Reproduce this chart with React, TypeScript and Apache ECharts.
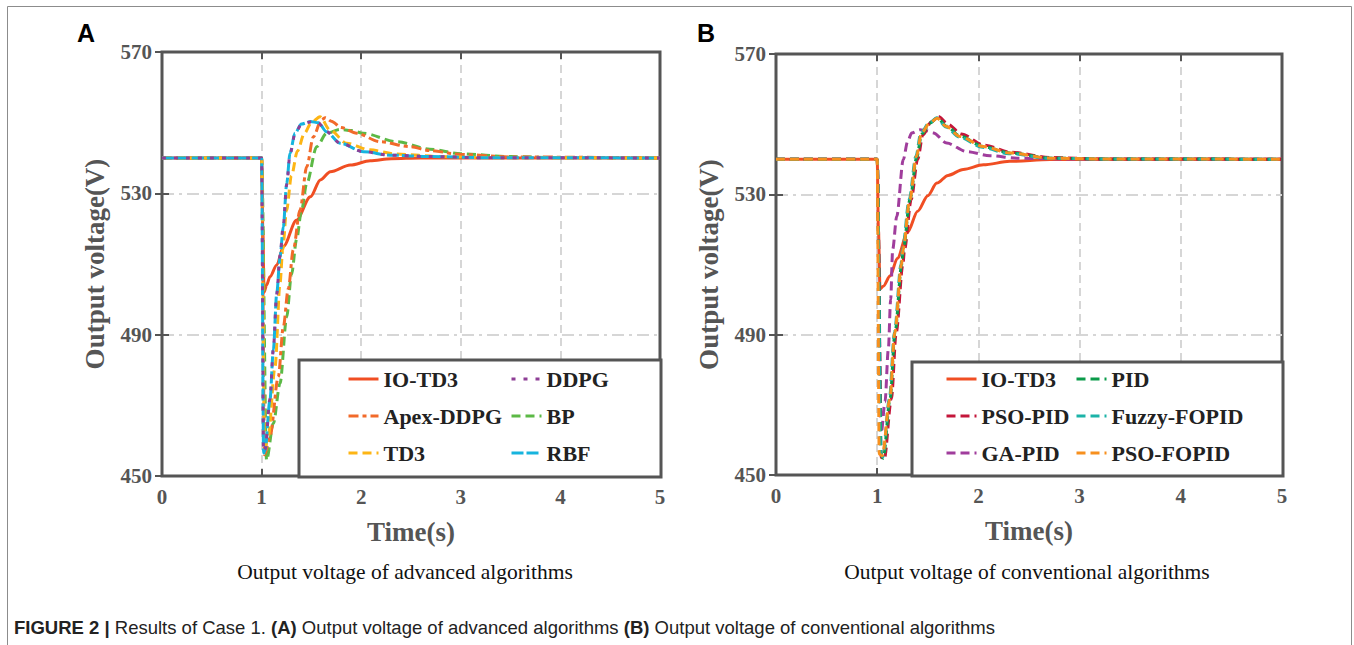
import React, { useEffect, useRef } from 'react';
import * as echarts from 'echarts';

type Pt = [number, number];

// Axis ranges / ticks
const timeTicks = [0, 1, 2, 3, 4, 5];
const voltTicks = [450, 490, 530, 570];

// Panel A: advanced algorithms  [time (s), voltage (V)]
const ioTd3A: Pt[] = [[0, 540], [1.0, 540], [1.012, 520], [1.025, 502], [1.05, 504], [1.084, 506.4], [1.152, 509.7], [1.22, 515], [1.35, 522.4], [1.49, 529], [1.59, 533.8], [1.69, 536.1], [1.89, 538], [2.09, 539.2], [2.3, 539.8], [2.6, 540], [5, 540]];
const ddpgA: Pt[] = [[0, 540], [1.0, 540], [1.02, 456.8], [1.035, 457.5], [1.084, 471.8], [1.118, 486], [1.152, 501.5], [1.185, 512.5], [1.218, 521], [1.252, 532.5], [1.285, 541], [1.335, 546.8], [1.4, 549.5], [1.49, 550.2], [1.57, 549.9], [1.65, 547.5], [1.79, 544.2], [2.02, 541.8], [2.29, 540.8], [2.69, 540.4], [3.2, 540.1], [5, 540]];
const apexA: Pt[] = [[0, 540], [1.0, 540], [1.03, 456], [1.084, 461.2], [1.168, 478.1], [1.218, 492.2], [1.268, 503], [1.318, 514], [1.386, 525.3], [1.453, 537.5], [1.52, 546], [1.6, 550.8], [1.64, 551.4], [1.7, 550.4], [1.8, 548.6], [1.955, 547], [2.19, 544.6], [2.49, 543.2], [2.69, 542.1], [3.0, 541], [3.5, 540.3], [5, 540]];
const bpA: Pt[] = [[0, 540], [1.0, 540], [1.05, 454.5], [1.118, 464.9], [1.185, 476.2], [1.252, 495], [1.3, 507], [1.352, 517], [1.4, 525], [1.453, 532.8], [1.553, 543.2], [1.653, 547], [1.787, 548.1], [1.9, 547.8], [2.021, 547], [2.356, 544.6], [2.69, 542.5], [3.0, 541.2], [3.5, 540.4], [4.0, 540.1], [5, 540]];
const td3A: Pt[] = [[0, 540], [1.0, 540], [1.03, 457.5], [1.067, 461.2], [1.135, 480.9], [1.185, 504.5], [1.212, 514], [1.25, 525], [1.3, 535], [1.36, 542], [1.43, 547], [1.5, 550], [1.586, 551.7], [1.687, 547.9], [1.854, 544.2], [2.088, 542.3], [2.356, 541.1], [2.8, 540.4], [3.3, 540.1], [5, 540]];
const rbfA: Pt[] = [[0, 540], [1.0, 540], [1.02, 456.5], [1.035, 457.3], [1.084, 471.5], [1.118, 485.7], [1.152, 501.7], [1.185, 512], [1.218, 520.5], [1.252, 532.8], [1.285, 541.3], [1.335, 547], [1.4, 549.6], [1.49, 550.3], [1.57, 550], [1.653, 547.4], [1.787, 544.2], [2.021, 541.8], [2.29, 540.8], [2.69, 540.4], [3.2, 540.1], [5, 540]];

// Panel B: conventional algorithms
const ioTd3B: Pt[] = [[0, 540], [1.0, 540], [1.012, 520], [1.028, 503], [1.06, 503.8], [1.127, 506.7], [1.2, 511.8], [1.3, 519.2], [1.4, 525.2], [1.5, 529.6], [1.59, 533.2], [1.7, 535.4], [1.85, 537.1], [2.05, 538.4], [2.31, 539.4], [2.71, 539.9], [5, 540]];
const pidB: Pt[] = [[0, 540], [1.0, 540], [1.04, 455.5], [1.06, 454.8], [1.127, 471.6], [1.176, 490.6], [1.242, 510], [1.258, 514.3], [1.324, 528.5], [1.39, 540.5], [1.44, 547.2], [1.522, 550.3], [1.594, 551.8], [1.687, 549.4], [1.818, 546.6], [2.05, 543.6], [2.31, 541.8], [2.71, 540.3], [3.2, 540.1], [5, 540]];
const psoPidB: Pt[] = [[0, 540], [1.0, 540], [1.04, 455], [1.07, 454.5], [1.14, 471.6], [1.188, 490.6], [1.254, 510], [1.27, 514.3], [1.336, 528.5], [1.4, 540], [1.452, 547], [1.534, 550.6], [1.604, 552.2], [1.7, 550], [1.83, 547.2], [2.06, 544], [2.32, 542], [2.72, 540.5], [3.2, 540.1], [5, 540]];
const fuzzyB: Pt[] = [[0, 540], [1.0, 540], [1.035, 456], [1.055, 455.2], [1.12, 471.6], [1.17, 490.6], [1.235, 510], [1.25, 514.3], [1.316, 528.5], [1.382, 540.8], [1.432, 547.6], [1.515, 550.4], [1.59, 551.8], [1.68, 549.2], [1.81, 546.3], [2.04, 543.4], [2.3, 541.6], [2.7, 540.3], [3.2, 540.1], [5, 540]];
const gaPidB: Pt[] = [[0, 540], [1.0, 540], [1.04, 462], [1.077, 470.8], [1.11, 485.8], [1.133, 500], [1.153, 514.3], [1.193, 523.7], [1.258, 539.9], [1.3, 545], [1.341, 547.5], [1.423, 548.4], [1.49, 548.1], [1.555, 547.5], [1.687, 544.6], [1.884, 542.2], [2.115, 541], [2.38, 540.3], [2.8, 540.1], [5, 540]];
const psoFopidB: Pt[] = [[0, 540], [1.0, 540], [1.02, 456], [1.05, 455.5], [1.125, 471.6], [1.174, 490.6], [1.24, 510], [1.256, 514.3], [1.322, 528.5], [1.388, 540.8], [1.438, 547.5], [1.52, 550.3], [1.592, 551.7], [1.685, 549.3], [1.816, 546.5], [2.05, 543.6], [2.31, 541.8], [2.71, 540.3], [3.2, 540.1], [5, 540]];

const serif = "'Liberation Serif', 'Times New Roman', serif";
const sans = "'Liberation Sans', Arial, sans-serif";
const axisGray = '#555555';
const gridGray = '#d6d6d6';

function line(name: string, data: Pt[], color: string, dash: any, panel: number, z: number) {
  return {
    type: 'line',
    name,
    data,
    xAxisIndex: panel * 2,
    yAxisIndex: panel * 2,
    symbol: 'none',
    smooth: 0.3,
    smoothMonotone: 'x',
    z,
    lineStyle: { color, width: 3, type: dash },
    itemStyle: { color },
    emphasis: { disabled: true },
  };
}

function axesFor(panel: number) {
  const xBottom = {
    type: 'value', gridIndex: panel, position: 'bottom',
    min: timeTicks[0], max: timeTicks[timeTicks.length - 1], interval: 1,
    name: 'Time(s)', nameLocation: 'middle', nameGap: 42,
    nameTextStyle: { fontFamily: serif, fontWeight: 'bold', fontSize: 27, color: axisGray },
    axisLine: { show: false },
    axisTick: { show: true, inside: true, length: 7, lineStyle: { color: axisGray, width: 2 } },
    axisLabel: { margin: 10, fontFamily: serif, fontWeight: 'bold', fontSize: 21, color: axisGray },
    splitLine: { show: true, showMinLine: false, showMaxLine: false, lineStyle: { color: gridGray, width: 2, type: [8, 5] } },
  };
  const xTop = {
    type: 'value', gridIndex: panel, position: 'top',
    min: timeTicks[0], max: timeTicks[timeTicks.length - 1], interval: 1,
    axisLine: { show: false },
    axisTick: { show: true, inside: true, length: 7, lineStyle: { color: axisGray, width: 2 } },
    axisLabel: { show: false },
    splitLine: { show: false },
  };
  const yLeft = {
    type: 'value', gridIndex: panel, position: 'left',
    min: voltTicks[0], max: voltTicks[voltTicks.length - 1], interval: 40,
    name: 'Output voltage(V)', nameLocation: 'middle', nameGap: 54,
    nameTextStyle: { fontFamily: serif, fontWeight: 'bold', fontSize: 27, color: axisGray },
    axisLine: { show: false },
    axisTick: { show: true, inside: true, length: 7, lineStyle: { color: axisGray, width: 2 } },
    axisLabel: { margin: 10, fontFamily: serif, fontWeight: 'bold', fontSize: 21, color: axisGray },
    splitLine: { show: true, showMinLine: false, showMaxLine: false, lineStyle: { color: gridGray, width: 2, type: [12, 5, 3, 5] } },
  };
  const yRight = {
    type: 'value', gridIndex: panel, position: 'right',
    min: voltTicks[0], max: voltTicks[voltTicks.length - 1], interval: 40,
    axisLine: { show: false },
    axisTick: { show: true, inside: true, length: 7, lineStyle: { color: axisGray, width: 2 } },
    axisLabel: { show: false },
    splitLine: { show: false },
  };
  return { x: [xBottom, xTop], y: [yLeft, yRight] };
}

const legendText = { fontFamily: serif, fontWeight: 'bold', fontSize: 22, color: '#222', lineHeight: 22 };

function legendCol(names: string[], left: number) {
  return {
    data: names, orient: 'vertical', left, top: 368, itemGap: 15,
    itemWidth: 30, itemHeight: 14, padding: 0, z: 20,
    selectedMode: false,
    itemStyle: { opacity: 0 },
    lineStyle: { width: 3 },
    textStyle: legendText,
  };
}

export default function App() {
  const ref = useRef<HTMLDivElement>(null);
  useEffect(() => {
    const chart = echarts.init(ref.current!, null, { renderer: 'svg' });
    const a = axesFor(0);
    const b = axesFor(1);
    const option: any = {
      animation: false,
      backgroundColor: '#ffffff',
      grid: [
        { left: 162, top: 52, width: 498, height: 424, show: true, borderColor: axisGray, borderWidth: 3, backgroundColor: 'transparent' },
        { left: 776, top: 54, width: 506, height: 421, show: true, borderColor: axisGray, borderWidth: 3, backgroundColor: 'transparent' },
      ],
      xAxis: [...a.x, ...b.x],
      yAxis: [...a.y, ...b.y],
      legend: [
        legendCol(['IO-TD3', 'Apex-DDPG', 'TD3'], 347),
        legendCol(['DDPG', 'BP', 'RBF'], 510),
        legendCol(['IO-TD3', 'PSO-PID', 'GA-PID'], 945),
        legendCol(['PID', 'Fuzzy-FOPID', 'PSO-FOPID'], 1075),
      ],
      series: [
        line('IO-TD3', ioTd3A, '#f04e23', 'solid', 0, 2),
        line('BP', bpA, '#5cb946', [9, 5], 0, 3),
        line('Apex-DDPG', apexA, '#f26a2a', [10, 4, 4, 4], 0, 3),
        line('TD3', td3A, '#fdb515', [9, 5], 0, 3),
        line('RBF', rbfA, '#16b4de', [12, 3], 0, 4),
        line('DDPG', ddpgA, '#8e3f96', [4, 8], 0, 5),

        line('IO-TD3', ioTd3B, '#f04e23', 'solid', 1, 2),
        line('GA-PID', gaPidB, '#a03d9c', [9, 5], 1, 3),
        line('PSO-PID', psoPidB, '#c4163a', [9, 5], 1, 3),
        line('PID', pidB, '#0b9b4a', [9, 5], 1, 3),
        line('Fuzzy-FOPID', fuzzyB, '#1cb3a8', [9, 5], 1, 4),
        line('PSO-FOPID', psoFopidB, '#f7901e', [9, 5], 1, 5),
      ],
      graphic: [
        { type: 'rect', silent: true, z: 0, shape: { x: 7.5, y: 6.5, width: 1344, height: 700 }, style: { fill: 'none', stroke: '#8c8c8c', lineWidth: 1 } },
        { type: 'rect', silent: true, z: 8, shape: { x: 299, y: 360, width: 362, height: 117 }, style: { fill: '#ffffff', stroke: axisGray, lineWidth: 3 } },
        { type: 'rect', silent: true, z: 8, shape: { x: 912, y: 362, width: 371, height: 114 }, style: { fill: '#ffffff', stroke: axisGray, lineWidth: 3 } },
        { type: 'text', silent: true, z: 9, x: 86, y: 33, style: { text: 'A', font: `bold 25px ${sans}`, fill: '#000', textAlign: 'center', textVerticalAlign: 'middle' } },
        { type: 'text', silent: true, z: 9, x: 706, y: 33, style: { text: 'B', font: `bold 25px ${sans}`, fill: '#000', textAlign: 'center', textVerticalAlign: 'middle' } },
        { type: 'text', silent: true, z: 9, x: 405, y: 572, style: { text: 'Output voltage of advanced algorithms', font: `21.5px ${serif}`, fill: '#111', textAlign: 'center', textVerticalAlign: 'middle' } },
        { type: 'text', silent: true, z: 9, x: 1027, y: 572, style: { text: 'Output voltage of conventional algorithms', font: `21.5px ${serif}`, fill: '#111', textAlign: 'center', textVerticalAlign: 'middle' } },
        {
          type: 'text', silent: true, z: 9, x: 14, y: 627,
          style: {
            text: '{b|FIGURE 2 |} Results of Case 1. {b|(A)} Output voltage of advanced algorithms {b|(B)} Output voltage of conventional algorithms',
            font: `18.5px ${sans}`, fill: '#222', textAlign: 'left', textVerticalAlign: 'middle',
            rich: { b: { fontWeight: 'bold', fontSize: 18.5, fontFamily: sans, fill: '#222' } },
          },
        },
      ],
    };
    chart.setOption(option);
    return () => chart.dispose();
  }, []);
  return <div ref={ref} style={{ position: 'absolute', left: 0, top: 0, width: 1354, height: 645 }} />;
}
